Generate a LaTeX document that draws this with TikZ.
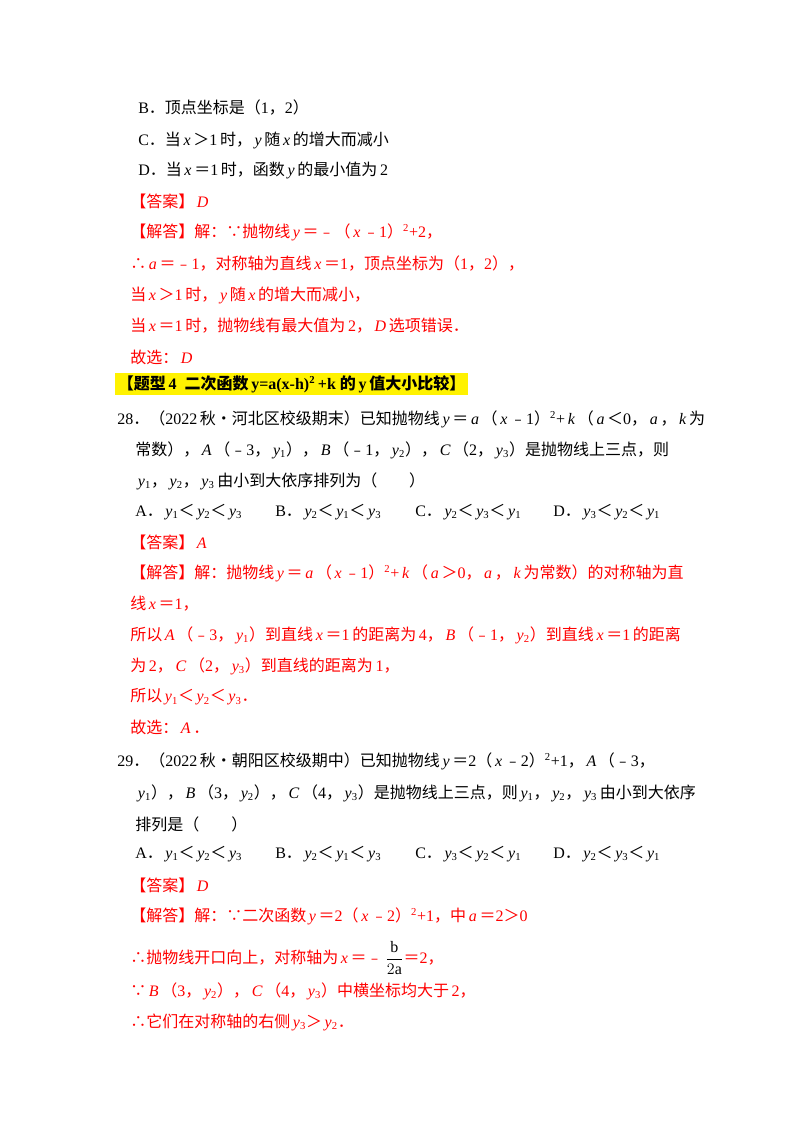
\documentclass[tikz,border=0pt]{standalone}
\usepackage{fontspec}
\setmainfont{Liberation Serif}
\newfontfamily\cjk{Noto Sans CJK SC}
\newcommand\zh[1]{{\cjk #1}}
\newcommand\ys[1]{\,\textit{y}\textsubscript{#1}}
\newcommand\vi[1]{\,\textit{#1}\,}
\definecolor{ansred}{RGB}{255,0,0}
\begin{document}
\begin{tikzpicture}[x=0.75pt,y=-0.75pt,
  ln/.style={anchor=west,inner sep=0pt,font=\fontsize{12}{14}\selectfont},
  rd/.style={ln,text=ansred}]
\useasboundingbox[fill=white] (0,0) rectangle (800,1132);
\node[ln] (l1) at (138,108) {B\zh{．顶点坐标是（}1\zh{，}2\zh{）}};
\node[ln] (l2) at (138,140) {C\zh{．当}\vi{x}\zh{＞}1\,\zh{时，}\vi{y}\zh{随}\vi{x}\zh{的增大而减小}};
\node[ln] (l3) at (138,170) {D\zh{．当}\vi{x}\zh{＝}1\,\zh{时，函数}\vi{y}\zh{的最小值为}\,2};
\node[rd] (l4) at (130,201) {\zh{【答案】}\vi{D}};
\node[rd] (l5) at (130,232) {\zh{【解答】解：∵抛物线}\vi{y}\zh{＝﹣（}\vi{x}\zh{﹣}1\zh{）}\textsuperscript{2}+2\zh{，}};
\node[rd] (l6) at (130,264) {\zh{∴}\vi{a}\zh{＝﹣}1\zh{，对称轴为直线}\vi{x}\zh{＝}1\zh{，顶点坐标为（}1\zh{，}2\zh{），}};
\node[rd] (l7) at (130,295) {\zh{当}\vi{x}\zh{＞}1\,\zh{时，}\vi{y}\zh{随}\vi{x}\zh{的增大而减小，}};
\node[rd] (l8) at (130,326) {\zh{当}\vi{x}\zh{＝}1\,\zh{时，抛物线有最大值为}\,2\zh{，}\vi{D}\zh{选项错误．}};
\node[rd] (l9) at (130,357) {\zh{故选：}\vi{D}};
\node[ln,fill=yellow,inner sep=2pt,font=\fontsize{12}{14}\selectfont\bfseries] (t4) at (115,384) {\zh{【题型}\,4\ \ \zh{二次函数}\,y=a(x-h)\textsuperscript{2}\,+k\ \zh{的}\,y\,\zh{值大小比较】}};
\node[ln] (q1) at (117,419) {28\zh{．（}2022\,\zh{秋•河北区校级期末）已知抛物线}\vi{y}\zh{＝}\vi{a}\zh{（}\vi{x}\zh{﹣}1\zh{）}\textsuperscript{2}+\vi{k}\zh{（}\vi{a}\zh{＜}0\zh{，}\vi{a}\zh{，}\vi{k}\zh{为}};
\node[ln] (q2) at (135,450) {\zh{常数），}\vi{A}\zh{（﹣}3\zh{，}\ys1\zh{），}\vi{B}\zh{（﹣}1\zh{，}\ys2\zh{），}\vi{C}\zh{（}2\zh{，}\ys3\zh{）是抛物线上三点，则}};
\node[ln] (q3) at (135,481) {\ys1\zh{，}\ys2\zh{，}\ys3\,\zh{由小到大依序排列为（\quad\quad ）}};
\node[ln] (qa) at (135,512) {A\zh{．}\ys1\zh{＜}\ys2\zh{＜}\ys3};
\node[ln] (qb) at (275,512) {B\zh{．}\ys2\zh{＜}\ys1\zh{＜}\ys3};
\node[ln] (qc) at (415,512) {C\zh{．}\ys2\zh{＜}\ys3\zh{＜}\ys1};
\node[ln] (qd) at (553,512) {D\zh{．}\ys3\zh{＜}\ys2\zh{＜}\ys1};
\node[rd] (a1) at (130,542) {\zh{【答案】}\vi{A}};
\node[rd] (a2) at (130,573) {\zh{【解答】解：抛物线}\vi{y}\zh{＝}\vi{a}\zh{（}\vi{x}\zh{﹣}1\zh{）}\textsuperscript{2}+\vi{k}\zh{（}\vi{a}\zh{＞}0\zh{，}\vi{a}\zh{，}\vi{k}\zh{为常数）的对称轴为直}};
\node[rd] (a3) at (130,604) {\zh{线}\vi{x}\zh{＝}1\zh{，}};
\node[rd] (a4) at (130,635) {\zh{所以}\vi{A}\zh{（﹣}3\zh{，}\ys1\zh{）到直线}\vi{x}\zh{＝}1\,\zh{的距离为}\,4\zh{，}\vi{B}\zh{（﹣}1\zh{，}\ys2\zh{）到直线}\vi{x}\zh{＝}1\,\zh{的距离}};
\node[rd] (a5) at (130,666) {\zh{为}\,2\zh{，}\vi{C}\zh{（}2\zh{，}\ys3\zh{）到直线的距离为}\,1\zh{，}};
\node[rd] (a6) at (130,697) {\zh{所以}\ys1\zh{＜}\ys2\zh{＜}\ys3\zh{．}};
\node[rd] (a7) at (130,727) {\zh{故选：}\vi{A}\zh{．}};
\node[ln] (p1) at (117,761) {29\zh{．（}2022\,\zh{秋•朝阳区校级期中）已知抛物线}\vi{y}\zh{＝}2\zh{（}\vi{x}\zh{﹣}2\zh{）}\textsuperscript{2}+1\zh{，}\vi{A}\zh{（﹣}3\zh{，}};
\node[ln] (p2) at (135,793) {\ys1\zh{），}\vi{B}\zh{（}3\zh{，}\ys2\zh{），}\vi{C}\zh{（}4\zh{，}\ys3\zh{）是抛物线上三点，则}\ys1\zh{，}\ys2\zh{，}\ys3\,\zh{由小到大依序}};
\node[ln] (p3) at (135,824) {\zh{排列是（\quad\quad ）}};
\node[ln] (pa) at (135,854) {A\zh{．}\ys1\zh{＜}\ys2\zh{＜}\ys3};
\node[ln] (pb) at (275,854) {B\zh{．}\ys2\zh{＜}\ys1\zh{＜}\ys3};
\node[ln] (pc) at (415,854) {C\zh{．}\ys3\zh{＜}\ys2\zh{＜}\ys1};
\node[ln] (pd) at (553,854) {D\zh{．}\ys2\zh{＜}\ys3\zh{＜}\ys1};
\node[rd] (b1) at (130,885) {\zh{【答案】}\vi{D}};
\node[rd] (b2) at (130,916) {\zh{【解答】解：∵二次函数}\vi{y}\zh{＝}2\zh{（}\vi{x}\zh{﹣}2\zh{）}\textsuperscript{2}+1\zh{，中}\vi{a}\zh{＝}2\zh{＞}0};
\node[rd] (b3) at (130,958) {\zh{∴抛物线开口向上，对称轴为}\vi{x}\zh{＝﹣}\,{\color{black}$\displaystyle\frac{\mathrm{b}}{2\mathrm{a}}$}\zh{＝}2\zh{，}};
\node[rd] (b4) at (130,991) {\zh{∵}\vi{B}\zh{（}3\zh{，}\ys2\zh{），}\vi{C}\zh{（}4\zh{，}\ys3\zh{）中横坐标均大于}\,2\zh{，}};
\node[rd] (b5) at (130,1022) {\zh{∴它们在对称轴的右侧}\ys3\zh{＞}\ys2\zh{．}};
\end{tikzpicture}
\end{document}
